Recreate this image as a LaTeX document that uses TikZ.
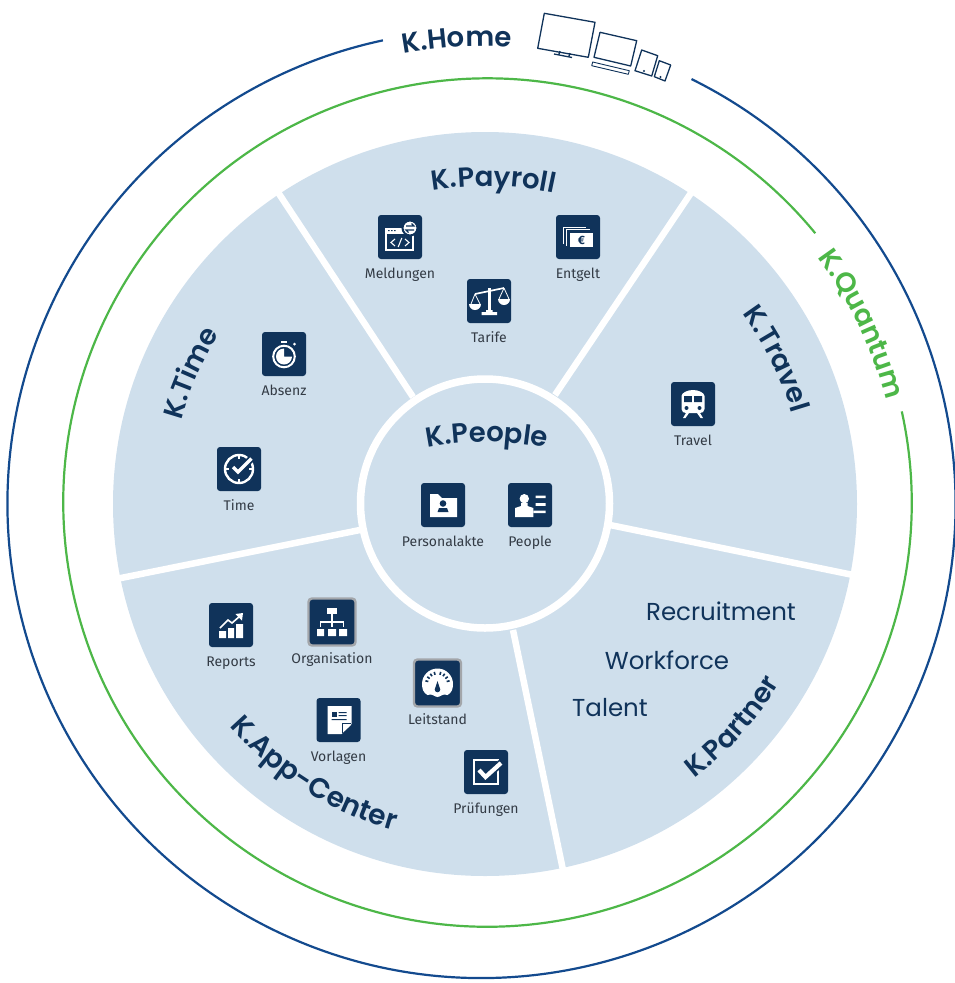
\documentclass[tikz,border=0pt]{standalone}
\usepackage{fontspec}
\usetikzlibrary{decorations.text}
\setmainfont{Fira Sans}
\newfontfamily\hd{Poppins SemiBold}
\newfontfamily\bg{Poppins}
\definecolor{navy}{HTML}{10335A}
\definecolor{disc}{HTML}{CFDFEC}
\definecolor{ringblue}{HTML}{134A8E}
\definecolor{ringgreen}{HTML}{4DB748}
\definecolor{lbltxt}{HTML}{333B45}
\definecolor{frame}{HTML}{A3A6AA}
\tikzset{
  tile/.style={fill=navy,rounded corners=3pt,minimum size=44pt,inner sep=0pt,draw=none},
  ftile/.style={fill=navy,rounded corners=3.5pt,minimum size=47pt,inner sep=0pt,draw=frame,line width=2.4pt},
  lbl/.style={font=\fontsize{14}{16}\selectfont,text=lbltxt,inner sep=0pt,anchor=base},
  big/.style={font=\bg\fontsize{24.5}{28}\selectfont,text=navy,inner sep=0pt,anchor=center},
  spoke/.style={draw=white,line width=6.5pt},
  gl/.style={fill=white,draw=none},
  gs/.style={draw=white,line width=1.8pt,fill=none},
  gn/.style={fill=navy,draw=none},
  dev/.style={draw=navy,line width=1.3pt,fill=none,line join=round},
}
\newcommand{\icn}[6][tile]{%
  \node[#1] (ic#2) at (#3,#4) {};
  \begin{scope}[shift={(#3,#4)}]#6\end{scope}
  \node[lbl] (lb#2) at (#3,#4+41) {#5};}
\begin{document}
\begin{tikzpicture}[x=1pt,y=-1pt]
\useasboundingbox (0,0) rectangle (954,983);
% outer rings
\draw[ringblue,line width=2.2pt] (481.5,504) ++(-63.7:474) arc[start angle=-63.7,end angle=258,radius=474];
\draw[ringgreen,line width=2.2pt] (487.5,502.5) ++(-12.4:424.2) arc[start angle=-12.4,end angle=320.6,radius=424.2];
% wheel
\fill[disc] (485,504) circle[radius=372];
\draw[spoke] (276.5,190) -- (413,397);
\draw[spoke] (693,190) -- (555,395);
\draw[spoke] (610,525) -- (858,576);
\draw[spoke] (513,630) -- (563,870);
\draw[spoke] (360,530) -- (116,579);
\filldraw[fill=disc,draw=white,line width=7.5pt] (485,503.5) circle[radius=124.5];
% curved headings
\path[decorate,decoration={text along path,text align=center,text={|\hd\fontsize{27.5}{27.5}\selectfont\color{navy}|K.Home}}] (485,504) ++(235:458) arc[start angle=235,end angle=298,radius=458];
\path[decorate,decoration={text along path,text align=center,text={|\hd\fontsize{27.5}{27.5}\selectfont\color{ringgreen}|K.Quantum}}] (487,503) ++(303:412) arc[start angle=303,end angle=366,radius=412];
\path[decorate,decoration={text along path,text align=center,text={|\hd\fontsize{27.5}{27.5}\selectfont\color{navy}|K.Payroll}}] (485,504) ++(240:318) arc[start angle=240,end angle=303,radius=318];
\path[decorate,decoration={text along path,text align=center,text={|\hd\fontsize{27.5}{27.5}\selectfont\color{navy}|K.Travel}}] (485,504) ++(305:320) arc[start angle=305,end angle=362,radius=320];
\path[decorate,decoration={text along path,text align=center,text={|\hd\fontsize{27.5}{27.5}\selectfont\color{navy}|K.Time}}] (485,504) ++(176:315) arc[start angle=176,end angle=232,radius=315];
\path[decorate,decoration={text along path,text align=center,text={|\hd\fontsize{27.5}{27.5}\selectfont\color{navy}|K.Partner}}] (485,504) ++(72:345) arc[start angle=72,end angle=12,radius=345];
\path[decorate,decoration={text along path,text align=center,text={|\hd\fontsize{28}{28}\selectfont\color{navy}|K.App-Center}}] (485,504) ++(155.5:339) arc[start angle=155.5,end angle=89,radius=339];
\path[decorate,decoration={text along path,text align=center,text={|\hd\fontsize{27.5}{27.5}\selectfont\color{navy}|K.People}}] (487,742) ++(248:300) arc[start angle=248,end angle=292,radius=300];
% partner texts
\node[big] (recruit) at (721,611) {Recruitment};
\node[big] (workforce) at (667,660) {Workforce};
\node[big] (talent) at (610,708) {Talent};
% devices
\draw[dev] (544.3,13.3) -- (595,22.3) -- (588.3,57.3) -- (537.7,48.3) -- cycle;
\draw[dev] (560,51) -- (559,54) (570,53) -- (569,56) (554,54) -- (572,57.5);
\draw[dev] (600,32.3) -- (636.7,40.7) -- (630.7,66) -- (594,57.3) -- cycle;
\draw[dev,line width=.9pt] (592.7,62) -- (629.3,70.7) -- (628.3,74.3) -- (591.7,65.7) -- cycle;
\draw[dev] (641.7,50) -- (657.7,55.7) -- (651.7,76) -- (635,70.7) -- cycle;
\fill[navy] (644,71) circle[radius=1.2];
\draw[dev] (659.3,60.7) -- (670.7,65) -- (665,81) -- (654.3,76.7) -- cycle;
\fill[navy] (660.5,77) circle[radius=1.2];
% icons
\icn{Meld}{400}{237}{Meldungen}{
  \draw[gs] (-14,-8) rectangle (13,13);
  \fill[gl] (-14.5,-9) rectangle (6,-3);
  \fill[gn] (-12,-7) rectangle (-10.5,-5.8) (-9,-7) rectangle (-7.5,-5.8) (-6,-7) rectangle (-4.5,-5.8);
  \draw[white,line width=1.1pt] (-5,2) -- (-9,5.5) -- (-5,9) (5,2) -- (9,5.5) -- (5,9) (1.8,1) -- (-1.8,10);
  \draw[navy,line width=2pt,fill=white] (10,-9) circle[radius=7.5];
  \draw[navy,line width=1.1pt] (6,-11) -- (14,-11) -- (11.5,-13.5) (14,-7) -- (6,-7) -- (8.5,-4.5);
}
\icn{Entgelt}{578}{237}{Entgelt}{
  \draw[white,line width=1pt] (-15,7) -- (-15,-10) -- (8,-10);
  \draw[white,line width=1pt] (-12,8.5) -- (-12,-7.5) -- (12,-7.5);
  \fill[gl] (-8.5,-4) rectangle (15,10);
  \node[text=navy,inner sep=0pt,font=\bfseries\fontsize{12}{12}\selectfont] (eur) at (3.5,3) {€};
}
\icn{Tarife}{489}{301}{Tarife}{
  \fill[gl] (-1.5,-13) rectangle (1.5,10);
  \fill[gl] (-7.5,11) rectangle (8,14) (-3,9) rectangle (3.5,11);
  \draw[white,line width=1.7pt] (-14,-7) -- (15,-13);
  \draw[white,line width=.8pt] (-14,-7) -- (-18,3) (-14,-7) -- (-9,3) (15,-13) -- (10,-2) (15,-13) -- (20,-2);
  \fill[gl] (-20,3) -- (-8,3) arc[start angle=0,end angle=180,radius=6] -- cycle;
  \fill[gl] (9,-2) -- (21,-2) arc[start angle=0,end angle=180,radius=6] -- cycle;
}
\icn{Reports}{231}{625}{Reports}{
  \fill[gl] (-12,6) rectangle (-5,13) (-3,3) rectangle (3,13) (5,-1) rectangle (12,13);
  \draw[white,line width=1.6pt] (-11,3) -- (-3,-5) -- (1,-2) -- (9,-9);
  \fill[gl] (12,-12) -- (4.5,-11) -- (11,-4.5) -- cycle;
}
\icn[ftile]{Orga}{332}{622}{Organisation}{
  \fill[gl] (-5,-14) rectangle (5,-8);
  \fill[gl] (-15,7) rectangle (-8,14) (-4,7) rectangle (4,14) (7,7) rectangle (15,14);
  \draw[white,line width=1.2pt] (0,-8) -- (0,5) (-11.5,5) -- (-11.5,0) -- (11.5,0) -- (11.5,5);
}
\icn[ftile]{Leit}{437.5}{683}{Leitstand}{
  \fill[gl] (-10,12) .. controls (-14,10) and (-15.5,6) .. (-15.5,1) arc[start angle=180,end angle=360,radius=15.5] .. controls (15.5,6) and (14,10) .. (10,12) .. controls (5,10) and (3,14) .. (0,14) .. controls (-3,14) and (-5,10) .. (-10,12) -- cycle;
  \fill[gn] (0,-2) -- (-2.8,6.5) arc[start angle=180,end angle=0,radius=2.8] -- cycle;
  \begin{scope}[shift={(0,1)}]\foreach \a in {195,215,235,255,285,305,325,345}{\draw[navy,line width=1.6pt] (\a:9.5) -- (\a:12.5);}\end{scope}
}
\icn{Vorl}{338.5}{720}{Vorlagen}{
  \fill[gl] (-11,-14) -- (13,-14) -- (13,4) -- (3,14) -- (-11,14) -- cycle;
  \fill[gn] (-7,-8) rectangle (-1.5,-3);
  \fill[gn] (0,-8) rectangle (8,-7) (0,-5) rectangle (8,-4) (-7,-1) rectangle (8,0);
  \draw[navy,line width=1pt] (12,3) -- (4,3) -- (4,13);
  \fill[gl] (6,5) -- (12.5,5) -- (6,11) -- cycle;
}
\icn{Pruef}{486}{772}{Prüfungen}{
  \draw[gs] (-12,-12) rectangle (12,12);
  \draw[navy,line width=7.5pt] (-7,-2) -- (-0.5,5) -- (15,-9);
  \draw[white,line width=4.2pt] (-7,-2) -- (-0.5,5) -- (15,-9);
}
\icn{Absenz}{284}{354}{Absenz}{
  \draw[white,line width=2pt] (0,2.5) circle[radius=10.8];
  \fill[gl] (0,2.5) -- (8,2.5) arc[start angle=0,end angle=270,radius=8] -- cycle;
  \fill[gl] (-3,-13) rectangle (3,-11);
  \fill[gl] (10.5,-10) circle[radius=1.5];
}
\icn{Time}{239}{469}{Time}{
  \draw[white,line width=2.4pt] (0,0) circle[radius=14];
  \draw[white,line width=1.8pt] (0,-14) -- (0,-10) (0,10) -- (0,14) (-14,0) -- (-10,0) (10,0) -- (14,0);
  \draw[navy,line width=7pt] (-6,-2) -- (-1,3) -- (12,-10);
  \draw[white,line width=3.4pt] (-6,-2) -- (-1,3) -- (12.5,-10.5);
}
\icn{Akte}{443}{505}{Personalakte}{
  \fill[gl] (-13,-11) -- (-5,-11) -- (-1,-7) -- (14,-7) -- (14,12) -- (-13,12) -- cycle;
  \fill[gn] (0,-1.5) circle[radius=3.3];
  \fill[gn] (-5.5,7) -- (-4,3) -- (4,3) -- (5.5,7) -- cycle;
}
\icn{People}{530}{505}{People}{
  \fill[gl] (-5.7,-6.3) circle[radius=4.7] ;
  \fill[gl] (-15,12) -- (-15,3) -- (-9,1) -- (-9,-2) -- (-2.5,-2) -- (-2.5,1) -- (3.3,3) -- (3.3,12) -- cycle;
  \fill[gl] (5.7,-9.5) rectangle (15.7,-6.8) (5.7,-1.8) rectangle (15.7,.9) (3.3,5.5) rectangle (15.7,8.2);
}
\icn{Travel}{693}{404}{Travel}{
  \fill[gl] (-11.5,5) -- (-11.5,-8) .. controls (-11.5,-11) and (-6,-14) .. (0,-14) .. controls (6,-14) and (11.5,-11) .. (11.5,-8) -- (11.5,5) .. controls (11.5,8) and (9,9) .. (7,9) -- (-7,9) .. controls (-9,9) and (-11.5,8) .. (-11.5,5) -- cycle;
  \fill[gn] (-9,-8) rectangle (-1.2,-2) (1.2,-8) rectangle (9,-2);
  \fill[gn] (-6.5,4) circle[radius=2] (6.5,4) circle[radius=2];
  \fill[gl] (-7,9) -- (-10,14) -- (-7.5,14) -- (-4,9) -- cycle (7,9) -- (10,14) -- (7.5,14) -- (4,9) -- cycle;
}
\end{tikzpicture}
\end{document}
